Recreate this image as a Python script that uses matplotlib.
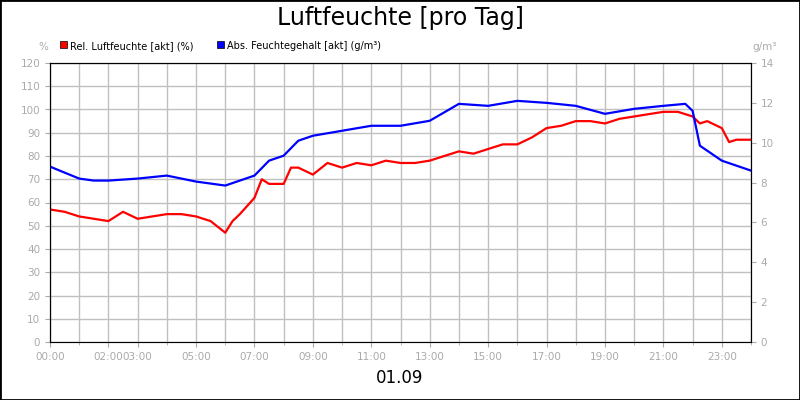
import matplotlib.pyplot as plt
import numpy as np

# hours of day and readings
rel_hours = [0, 0.5, 1, 1.5, 2, 2.5, 3, 3.5, 4, 4.5, 5, 5.5, 6, 6.25, 6.5, 7, 7.25, 7.5, 8,
             8.25, 8.5, 9, 9.5, 10, 10.5, 11, 11.5, 12, 12.5, 13, 13.5, 14, 14.5, 15, 15.5,
             16, 16.5, 17, 17.5, 18, 18.5, 19, 19.5, 20, 20.5, 21, 21.5, 22, 22.25, 22.5,
             23, 23.25, 23.5, 24]
rel_hum = [57, 56, 54, 53, 52, 56, 53, 54, 55, 55, 54, 52, 47, 52, 55, 62, 70, 68, 68,
           75, 75, 72, 77, 75, 77, 76, 78, 77, 77, 78, 80, 82, 81, 83, 85,
           85, 88, 92, 93, 95, 95, 94, 96, 97, 98, 99, 99, 97, 94, 95,
           92, 86, 87, 87]
abs_hours = [0, 1, 1.5, 2, 3, 4, 5, 5.5, 6, 6.5, 7, 7.5, 8, 8.5, 9, 10, 11, 12, 13, 14,
             15, 16, 17, 18, 19, 20, 21, 21.75, 22, 22.25, 22.5, 23, 23.5, 24]
abs_hum = [8.8, 8.2, 8.1, 8.1, 8.2, 8.35, 8.05, 7.95, 7.85, 8.1, 8.35, 9.1, 9.35, 10.1,
           10.35, 10.6, 10.85, 10.85, 11.1, 11.95, 11.85, 12.1, 12.0, 11.85, 11.45, 11.7,
           11.85, 11.95, 11.6, 9.85, 9.6, 9.1, 8.85, 8.6]
tick_hours = [0, 2, 3, 5, 7, 9, 11, 13, 15, 17, 19, 21, 23]
tick_labels = [f"{h:02d}:00" for h in tick_hours]

grey = '#aaaaaa'
fig = plt.figure(figsize=(8, 4), dpi=100)
fig.patches.append(plt.Rectangle((0, 0), 1, 1, transform=fig.transFigure,
                                 fill=False, edgecolor='black', linewidth=2))
ax = fig.add_axes([50/800, 58/400, 701/800, 279/400])
ax.plot(rel_hours, rel_hum, color='#ff0000', linewidth=1.6)
ax.set_xlim(0, 24)
ax.set_ylim(0, 120)
ax.set_yticks(np.arange(0, 121, 10))
ax.set_xticks(range(25), minor=True)
ax.set_xticks(tick_hours)
ax.set_xticklabels(tick_labels)
ax.grid(True, which='both', color='#c0c0c0', linewidth=1)
ax.tick_params(colors=grey, labelsize=7.5, which='both')
for s in ax.spines.values():
    s.set_color('black')
ax.spines['bottom'].set_color('#808080')

ax2 = ax.twinx()
ax2.plot(abs_hours, abs_hum, color='#0000ff', linewidth=1.6)
ax2.set_ylim(0, 14)
ax2.set_yticks(range(0, 15, 2))
ax2.tick_params(colors=grey, labelsize=7.5)
ax2.set_xlim(0, 24)

fig.text(0.5, 0.955, 'Luftfeuchte [pro Tag]', ha='center', va='center', fontsize=17)
fig.text(0.5, 0.055, '01.09', ha='center', va='center', fontsize=12)
fig.text(43/800, 350/400, '%', ha='center', color=grey, fontsize=7.5)
fig.text(765/800, 350/400, 'g/m³', ha='center', color=grey, fontsize=7.5)
fig.patches.append(plt.Rectangle((60/800, 352/400), 7/800, 7/400, transform=fig.transFigure,
                                 facecolor='#ff0000', edgecolor='black', linewidth=0.5))
fig.text(70/800, 351/400, 'Rel. Luftfeuchte [akt] (%)', fontsize=7)
fig.patches.append(plt.Rectangle((217/800, 352/400), 7/800, 7/400, transform=fig.transFigure,
                                 facecolor='#0000ff', edgecolor='black', linewidth=0.5))
fig.text(227/800, 351/400, 'Abs. Feuchtegehalt [akt] (g/m³)', fontsize=7)

fig.savefig('out.png', dpi=100)
